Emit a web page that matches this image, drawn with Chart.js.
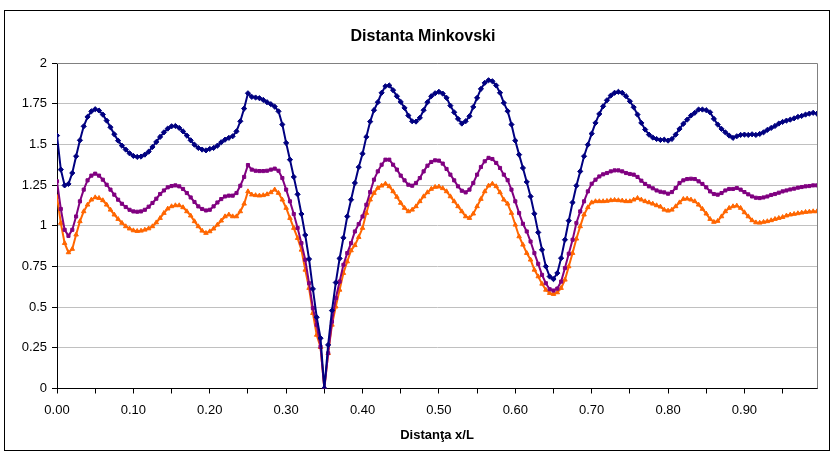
<!DOCTYPE html>
<html>
<head>
<meta charset="utf-8">
<script src="https://cdn.jsdelivr.net/npm/chart.js@4.4.1/dist/chart.umd.min.js"></script>
<style>
html,body{margin:0;padding:0;background:#fff;}
canvas{display:block;}
</style>
</head>
<body>
<canvas id="c" width="831" height="452"></canvas>
<script>
const chartTitle = 'Distanta Minkovski';
const xAxisTitle = 'Distanţa x/L';

const categories = [
0.000,0.005,0.010,0.015,0.020,0.025,0.030,0.035,0.040,0.045,
0.050,0.055,0.060,0.065,0.070,0.075,0.080,0.085,0.090,0.095,
0.100,0.105,0.110,0.115,0.120,0.125,0.130,0.135,0.140,0.145,
0.150,0.155,0.160,0.165,0.170,0.175,0.180,0.185,0.190,0.195,
0.200,0.205,0.210,0.215,0.220,0.225,0.230,0.235,0.240,0.245,
0.250,0.255,0.260,0.265,0.270,0.275,0.280,0.285,0.290,0.295,
0.300,0.305,0.310,0.315,0.320,0.325,0.330,0.335,0.340,0.345,
0.350,0.355,0.360,0.365,0.370,0.375,0.380,0.385,0.390,0.395,
0.400,0.405,0.410,0.415,0.420,0.425,0.430,0.435,0.440,0.445,
0.450,0.455,0.460,0.465,0.470,0.475,0.480,0.485,0.490,0.495,
0.500,0.505,0.510,0.515,0.520,0.525,0.530,0.535,0.540,0.545,
0.550,0.555,0.560,0.565,0.570,0.575,0.580,0.585,0.590,0.595,
0.600,0.605,0.610,0.615,0.620,0.625,0.630,0.635,0.640,0.645,
0.650,0.655,0.660,0.665,0.670,0.675,0.680,0.685,0.690,0.695,
0.700,0.705,0.710,0.715,0.720,0.725,0.730,0.735,0.740,0.745,
0.750,0.755,0.760,0.765,0.770,0.775,0.780,0.785,0.790,0.795,
0.800,0.805,0.810,0.815,0.820,0.825,0.830,0.835,0.840,0.845,
0.850,0.855,0.860,0.865,0.870,0.875,0.880,0.885,0.890,0.895,
0.900,0.905,0.910,0.915,0.920,0.925,0.930,0.935,0.940,0.945,
0.950,0.955,0.960,0.965,0.970,0.975,0.980,0.985,0.990,0.995
];

const seriesBlue = [
1.554,1.345,1.248,1.257,1.324,1.427,1.525,1.611,1.669,1.703,
1.716,1.708,1.683,1.646,1.605,1.562,1.523,1.492,1.468,1.445,
1.429,1.423,1.425,1.437,1.455,1.484,1.515,1.546,1.574,1.597,
1.611,1.613,1.601,1.580,1.554,1.525,1.498,1.478,1.468,1.463,
1.472,1.478,1.492,1.513,1.529,1.540,1.550,1.580,1.642,1.720,
1.814,1.792,1.788,1.784,1.773,1.759,1.747,1.732,1.703,1.622,
1.509,1.406,1.300,1.193,1.072,0.943,0.795,0.612,0.438,0.309,
0.000,0.268,0.479,0.651,0.799,0.926,1.057,1.160,1.263,1.360,
1.443,1.546,1.640,1.710,1.759,1.817,1.857,1.862,1.833,1.796,
1.761,1.724,1.677,1.642,1.640,1.663,1.710,1.759,1.796,1.814,
1.823,1.812,1.786,1.738,1.697,1.657,1.628,1.642,1.673,1.730,
1.786,1.841,1.878,1.894,1.888,1.862,1.817,1.755,1.704,1.622,
1.523,1.437,1.355,1.269,1.180,1.074,0.959,0.852,0.750,0.688,
0.672,0.709,0.801,0.914,1.031,1.143,1.246,1.334,1.427,1.498,
1.566,1.632,1.687,1.734,1.771,1.800,1.817,1.823,1.817,1.796,
1.765,1.728,1.683,1.632,1.591,1.560,1.542,1.533,1.527,1.529,
1.523,1.533,1.560,1.595,1.626,1.652,1.677,1.694,1.714,1.714,
1.710,1.697,1.657,1.622,1.595,1.574,1.554,1.540,1.550,1.558,
1.560,1.558,1.562,1.558,1.564,1.574,1.589,1.601,1.613,1.628,
1.638,1.646,1.652,1.660,1.669,1.675,1.683,1.689,1.694,1.689
];

const seriesPurple = [
1.273,1.103,0.975,0.938,0.975,1.057,1.150,1.222,1.279,1.308,
1.320,1.308,1.283,1.252,1.222,1.191,1.160,1.135,1.115,1.098,
1.088,1.086,1.088,1.098,1.117,1.140,1.166,1.195,1.217,1.236,
1.244,1.248,1.242,1.226,1.201,1.174,1.146,1.119,1.103,1.094,
1.098,1.119,1.143,1.164,1.180,1.185,1.185,1.201,1.246,1.300,
1.373,1.345,1.338,1.336,1.336,1.338,1.345,1.351,1.338,1.293,
1.222,1.150,1.072,0.986,0.893,0.791,0.647,0.494,0.391,0.257,
0.000,0.217,0.411,0.555,0.657,0.760,0.832,0.893,0.965,1.010,
1.057,1.129,1.207,1.283,1.334,1.375,1.406,1.406,1.375,1.345,
1.308,1.279,1.252,1.246,1.263,1.293,1.334,1.369,1.392,1.402,
1.400,1.382,1.349,1.314,1.279,1.242,1.215,1.205,1.222,1.263,
1.314,1.361,1.396,1.417,1.410,1.386,1.355,1.314,1.280,1.222,
1.150,1.078,1.012,0.965,0.903,0.832,0.766,0.698,0.647,0.610,
0.602,0.614,0.657,0.740,0.828,0.914,1.017,1.088,1.150,1.211,
1.258,1.283,1.303,1.316,1.324,1.334,1.340,1.340,1.334,1.324,
1.318,1.314,1.300,1.277,1.257,1.242,1.230,1.217,1.209,1.205,
1.197,1.207,1.232,1.263,1.279,1.287,1.289,1.287,1.273,1.257,
1.236,1.211,1.195,1.191,1.201,1.217,1.226,1.226,1.232,1.222,
1.207,1.193,1.180,1.172,1.170,1.174,1.180,1.189,1.195,1.203,
1.211,1.217,1.223,1.228,1.234,1.238,1.242,1.244,1.248,1.248
];

const seriesOrange = [
1.177,1.017,0.893,0.836,0.857,0.945,1.027,1.088,1.129,1.160,
1.174,1.170,1.156,1.129,1.098,1.068,1.041,1.017,0.996,0.982,
0.971,0.967,0.969,0.975,0.983,0.996,1.020,1.047,1.078,1.105,
1.119,1.125,1.125,1.113,1.088,1.062,1.027,0.996,0.969,0.955,
0.965,0.982,1.006,1.031,1.057,1.068,1.057,1.057,1.088,1.135,
1.211,1.191,1.187,1.185,1.187,1.193,1.205,1.222,1.201,1.160,
1.109,1.047,0.986,0.924,0.852,0.729,0.617,0.463,0.329,0.254,
0.000,0.217,0.391,0.503,0.606,0.709,0.780,0.848,0.880,0.930,
0.986,1.078,1.160,1.201,1.232,1.246,1.258,1.242,1.211,1.177,
1.140,1.109,1.088,1.098,1.119,1.150,1.180,1.205,1.226,1.238,
1.240,1.230,1.211,1.180,1.150,1.119,1.088,1.057,1.047,1.074,
1.119,1.164,1.211,1.246,1.258,1.242,1.205,1.160,1.135,1.078,
1.006,0.934,0.883,0.832,0.791,0.729,0.688,0.643,0.606,0.586,
0.580,0.590,0.617,0.668,0.750,0.832,0.920,0.996,1.068,1.113,
1.143,1.150,1.150,1.150,1.152,1.156,1.158,1.156,1.154,1.150,
1.150,1.160,1.170,1.160,1.150,1.143,1.135,1.125,1.117,1.098,
1.092,1.098,1.119,1.143,1.164,1.166,1.160,1.150,1.129,1.103,
1.074,1.041,1.023,1.029,1.057,1.088,1.109,1.119,1.123,1.109,
1.082,1.057,1.033,1.020,1.018,1.023,1.027,1.033,1.041,1.047,
1.053,1.062,1.068,1.072,1.076,1.080,1.084,1.086,1.088,1.088
];

const xTickLabels = ['0.00','0.10','0.20','0.30','0.40','0.50','0.60','0.70','0.80','0.90'];
const yTickLabels = ['0','0.25','0.5','0.75','1','1.25','1.5','1.75','2'];

const FONT = "'Liberation Sans', Arial, Helvetica, sans-serif";

function toPoints(vals){ return categories.map((x,i)=>({x:x, y:vals[i]})); }

function ds(label, vals, color, style, r){
  return {
    label: label,
    data: toPoints(vals),
    borderColor: color,
    backgroundColor: color,
    pointBackgroundColor: color,
    pointBorderColor: color,
    borderWidth: 2,
    pointStyle: style,
    pointRadius: r,
    pointBorderWidth: 1,
    pointHoverRadius: r,
    tension: 0,
    fill: false
  };
}

const decor = {
  id: 'decor',
  beforeDatasetsDraw(chart){
    const ctx = chart.ctx, a = chart.chartArea;
    ctx.save();
    ctx.strokeStyle = '#808080';
    ctx.lineWidth = 1;
    ctx.beginPath();
    ctx.moveTo(a.left, a.top + 0.5);
    ctx.lineTo(a.right + 0.5, a.top + 0.5);
    ctx.lineTo(a.right + 0.5, a.bottom);
    ctx.stroke();
    ctx.restore();
  },
  afterDraw(chart){
    const ctx = chart.ctx;
    ctx.save();
    ctx.strokeStyle = '#000';
    ctx.lineWidth = 1;
    ctx.strokeRect(4.5, 10.5, 825, 440);
    ctx.fillStyle = '#000';
    ctx.textAlign = 'center';
    ctx.textBaseline = 'middle';
    ctx.font = 'bold 16px ' + FONT;
    ctx.fillText(chartTitle, 423, 37);
    ctx.font = 'bold 13px ' + FONT;
    ctx.fillText(xAxisTitle, 437, 435);
    ctx.restore();
  }
};

new Chart(document.getElementById('c'), {
  type: 'line',
  data: {
    datasets: [
      ds('Serie 1', seriesBlue, '#000080', 'rectRot', 2.6),
      ds('Serie 2', seriesPurple, '#800080', 'rect', 2.2),
      ds('Serie 3', seriesOrange, '#FF6600', 'triangle', 2.6)
    ]
  },
  options: {
    responsive: false,
    devicePixelRatio: 1,
    animation: false,
    layout: { padding: { left: 0, top: 63, right: 14, bottom: 0 } },
    plugins: {
      legend: { display: false },
      title: { display: false },
      tooltip: { enabled: false }
    },
    scales: {
      x: {
        type: 'linear',
        min: 0,
        max: 0.995,
        afterFit(s){ s.height = 452 - 388.5; },
        border: { color: '#000', width: 1 },
        grid: { drawOnChartArea: false, drawTicks: true, tickLength: 5, tickColor: '#000' },
        ticks: {
          stepSize: 0.05,
          includeBounds: false,
          autoSkip: false,
          maxRotation: 0,
          padding: 9,
          color: '#000',
          font: { family: FONT, size: 13 },
          callback(v){
            const k = Math.round(v * 100);
            if (k % 10 === 0) return xTickLabels[k / 10] || '';
            return '';
          }
        }
      },
      y: {
        min: 0,
        max: 2,
        afterFit(s){ s.width = 57; },
        border: { color: '#000', width: 1 },
        grid: { color: '#c0c0c0', lineWidth: 1, drawTicks: true, tickLength: 5, tickColor: '#000' },
        ticks: {
          stepSize: 0.25,
          padding: 5,
          color: '#000',
          font: { family: FONT, size: 13 },
          callback(v){
            const k = Math.round(v * 4);
            return yTickLabels[k];
          }
        }
      }
    }
  },
  plugins: [decor]
});
</script>
</body>
</html>
